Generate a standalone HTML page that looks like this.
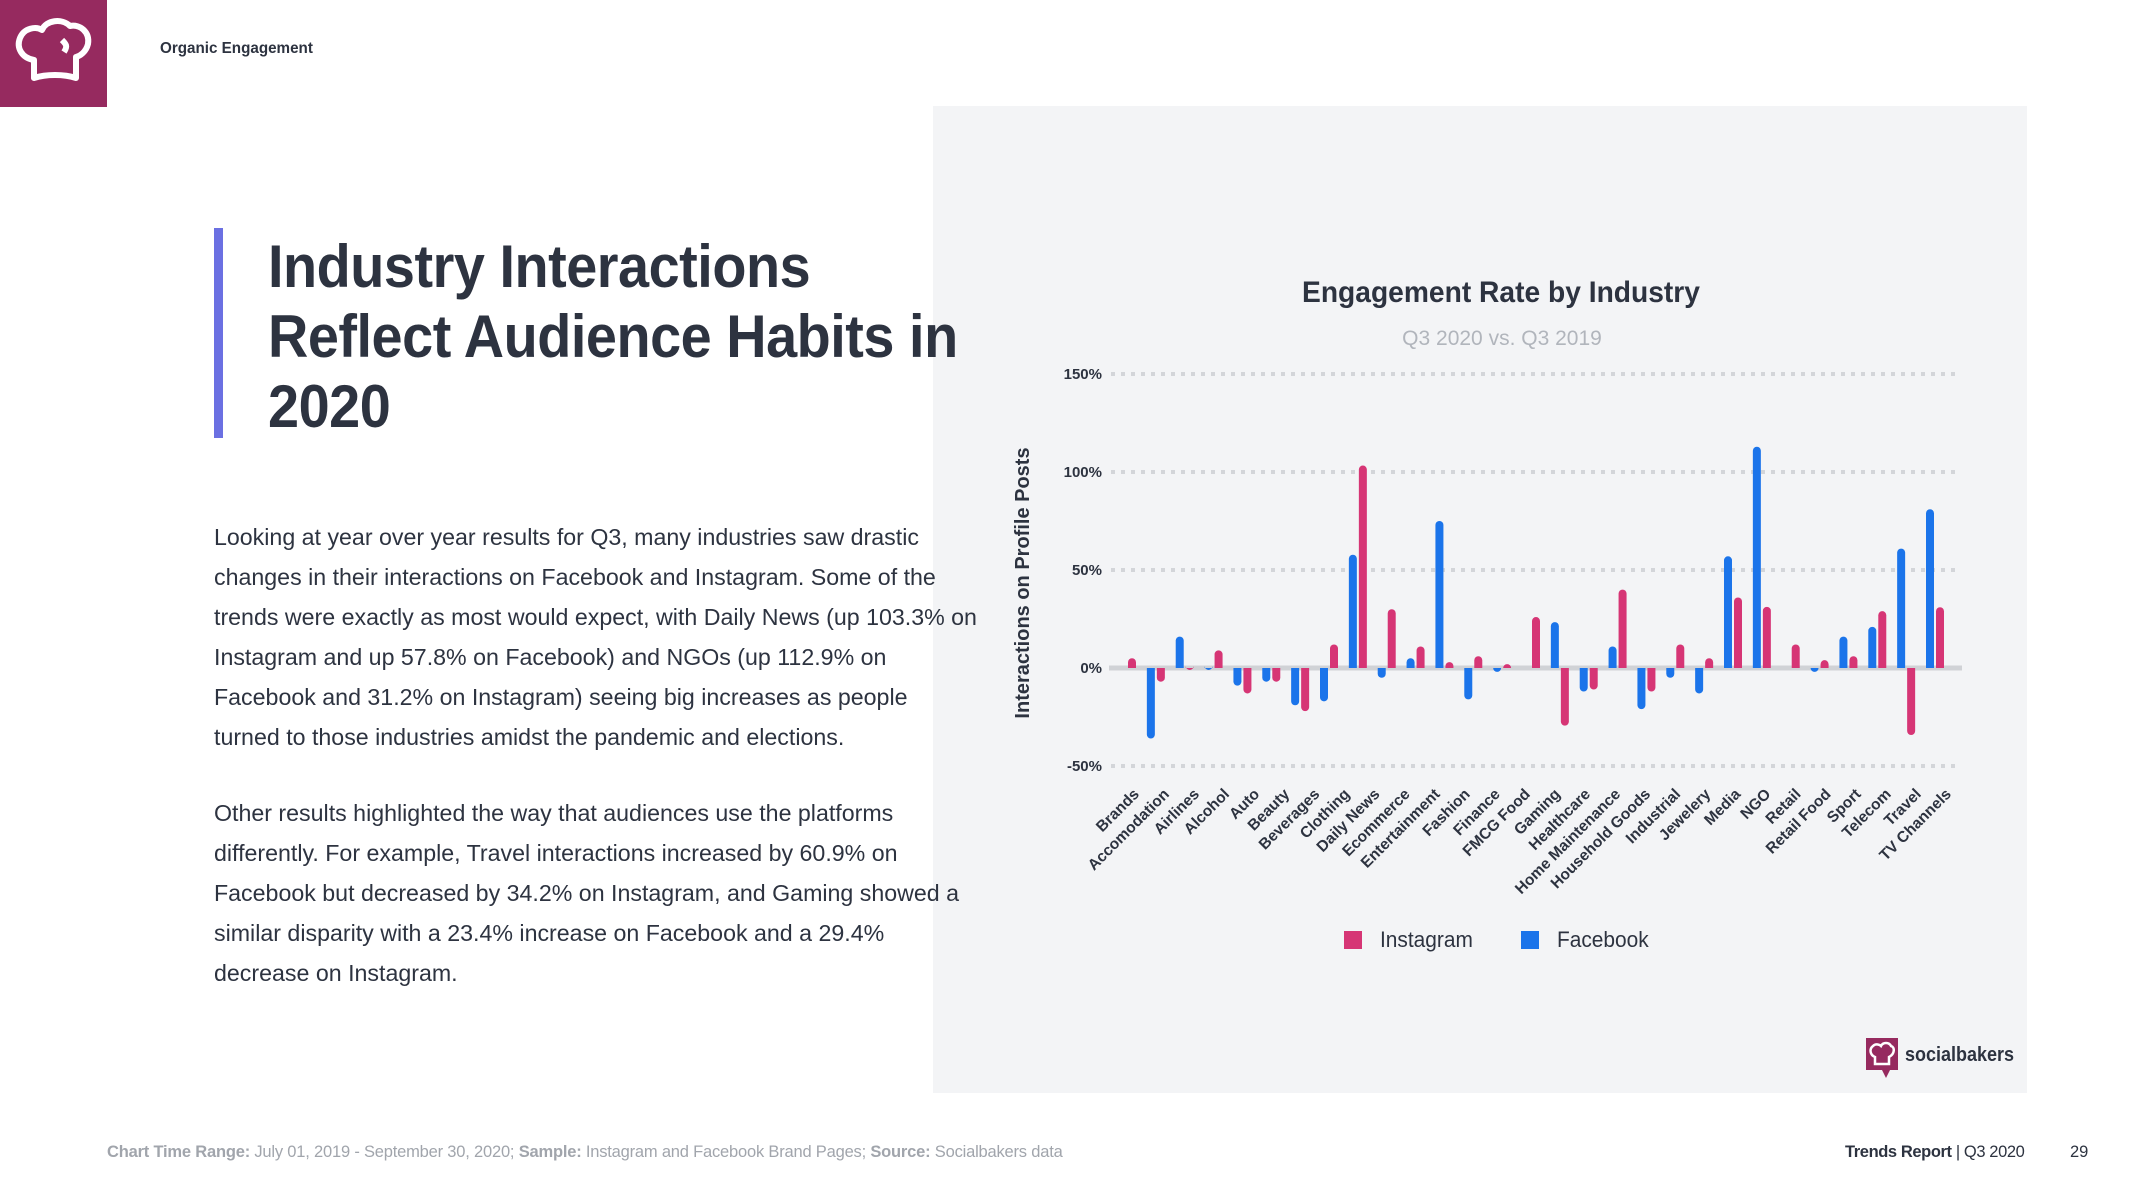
<!DOCTYPE html>
<html><head><meta charset="utf-8">
<style>
*{margin:0;padding:0;box-sizing:border-box}
body{width:2133px;height:1200px;background:#fff;position:relative;overflow:hidden;font-family:"Liberation Sans",sans-serif;color:#2d3340}
.abs{position:absolute}
#logo-box{left:0;top:0;width:107px;height:107px;background:#962a5f}
#section{left:160px;top:40px;font-size:16px;font-weight:bold;color:#2d3340;transform:scaleX(0.95);transform-origin:left}
#accent{left:214px;top:228px;width:9px;height:210px;background:#6b70e2}
#title{left:268px;top:232px;font-size:60px;font-weight:bold;line-height:70px;color:#2d3340;transform:scaleX(0.93);transform-origin:left top;white-space:nowrap;letter-spacing:-0.5px;z-index:2}
.para{left:214px;font-size:23.2px;line-height:40px;color:#2d3340;white-space:nowrap;letter-spacing:0;z-index:2}
#panel{left:933px;top:106px;width:1094px;height:987px;background:#f3f4f6;z-index:0}
#footer{left:107px;top:1143px;font-size:16.5px;color:#a1a5ac;white-space:nowrap;letter-spacing:-0.2px}
#report{left:1845px;top:1143px;font-size:16.5px;color:#2d3340;white-space:nowrap;letter-spacing:-0.4px}
#pagenum{left:2070px;top:1143px;font-size:16.5px;color:#2d3340}
#chart{z-index:1}
</style></head>
<body>
<div id="logo-box" class="abs">
<svg width="107" height="107" viewBox="0 0 107 107"><path d="M34 78 L34 60 C22 58 16 48 20 38 C24 28 36 26 42 30 C46 20 62 18 70 26 C80 24 90 32 88 44 C86 52 80 56 76 57 L76 78 C64 74 46 74 34 78 Z M62 40 C66 44 68 46 64 52" fill="none" stroke="#fff" stroke-width="6" stroke-linejoin="round"/></svg>
</div>
<div id="section" class="abs">Organic Engagement</div>
<div id="accent" class="abs"></div>
<div id="panel" class="abs"></div>
<div id="title" class="abs">Industry Interactions<br>Reflect Audience Habits in<br>2020</div>
<div class="abs para" style="top:517px">Looking at year over year results for Q3, many industries saw drastic<br>changes in their interactions on Facebook and Instagram. Some of the<br>trends were exactly as most would expect, with Daily News (up 103.3% on<br>Instagram and up 57.8% on Facebook) and NGOs (up 112.9% on<br>Facebook and 31.2% on Instagram) seeing big increases as people<br>turned to those industries amidst the pandemic and elections.</div>
<div class="abs para" style="top:793px">Other results highlighted the way that audiences use the platforms<br>differently. For example, Travel interactions increased by 60.9% on<br>Facebook but decreased by 34.2% on Instagram, and Gaming showed a<br>similar disparity with a 23.4% increase on Facebook and a 29.4%<br>decrease on Instagram.</div>
<svg id="chart" class="abs" style="left:0;top:0" width="2133" height="1200"></svg>
<div id="footer" class="abs"><b>Chart Time Range:</b> July 01, 2019 - September 30, 2020; <b>Sample:</b> Instagram and Facebook Brand Pages; <b>Source:</b> Socialbakers data</div>
<div id="report" class="abs"><b>Trends Report</b> | Q3 2020</div>
<div id="pagenum" class="abs">29</div>
<script>
const labels = ["Brands","Accomodation","Airlines","Alcohol","Auto","Beauty","Beverages","Clothing","Daily News","Ecommerce","Entertainment","Fashion","Finance","FMCG Food","Gaming","Healthcare","Home Maintenance","Household Goods","Industrial","Jewelery","Media","NGO","Retail","Retail Food","Sport","Telecom","Travel","TV Channels"];
const facebook = [0,-36,16,-1,-9,-7,-19,-17,57.8,-5,5,75,-16,-2,0,23.4,-12,11,-21,-5,-13,57,112.9,0,-2,16,21,60.9,81];
const instagram = [5,-7,-1,9,-13,-7,-22,12,103.3,30,11,3,6,2,26,-29.4,-11,40,-12,12,5,36,31.2,12,4,6,29,-34.2,31];
const yTicks = [150,100,50,0,-50];
const yTickLabels = ["150%","100%","50%","0%","-50%"];

const NS="http://www.w3.org/2000/svg";
const svg=document.getElementById('chart');
function el(t,a,txt){const e=document.createElementNS(NS,t);for(const k in a)e.setAttribute(k,a[k]);if(txt!=null)e.textContent=txt;svg.appendChild(e);return e;}
const Y0=668, PPU=1.96, X0=1111, X1=1962;
const y=v=>Y0-v*PPU;
const slotX=i=>1122+i*(808/(facebook.length-1));
const labelX=i=>1140+i*(812/(labels.length-1));

let t=el('text',{x:1501,y:302,'text-anchor':'middle','font-size':30,'font-weight':'bold',fill:'#2d3340',transform:'translate(1501 0) scale(0.94 1) translate(-1501 0)'},'Engagement Rate by Industry');


t=el('text',{x:1502,y:345,'text-anchor':'middle','font-size':21,fill:'#b1b5bc'},'Q3 2020 vs. Q3 2019');


t=el('text',{x:0,y:0,'text-anchor':'middle','font-size':20,'font-weight':'bold',fill:'#2d3340',transform:'translate(1029 583) rotate(-90)'},'Interactions on Profile Posts');



yTicks.forEach((v,i)=>{
  if(v!==0){
    const g=el('line',{x1:X0,x2:X1-2,y1:y(v),y2:y(v),stroke:'#d3d5d9','stroke-width':4,'stroke-dasharray':'4 6'});
    
    
  }
  const l=el('text',{x:1102,y:y(v)+5,'text-anchor':'end','font-size':15,'font-weight':'bold',fill:'#2d3340'},yTickLabels[i]);
  
  
});
const zl=el('line',{x1:X0-2,x2:X1,y1:Y0,y2:Y0,stroke:'#d0d2d6','stroke-width':5});



function bar(x,v,color,name){
  if(v===0) return;
  const top=Math.min(y(v),Y0), h=Math.abs(y(v)-Y0);
  const p=el('path',{fill:color,d:v>0?`M${x-4},${Y0} V${top+4} A4,4 0 0 1 ${x+4},${top+4} V${Y0} Z`:`M${x-4},${Y0} V${Y0+h-4} A4,4 0 0 0 ${x+4},${Y0+h-4} V${Y0} Z`});
  
  
}
facebook.forEach((v,i)=>bar(slotX(i),v,'#1b74ea','bar-facebook'));
instagram.forEach((v,i)=>bar(slotX(i)+10,v,'#d63575','bar-instagram'));

labels.forEach((s,i)=>{
  const x=labelX(i);
  const l=el('text',{x:0,y:0,'text-anchor':'end','font-size':15.5,'font-weight':'bold',fill:'#2d3340',transform:`translate(${x} 795) rotate(-45)`},s);
  
  
});

let r=el('rect',{x:1344,y:931,width:18,height:18,fill:'#d63575'});


t=el('text',{x:1380,y:947,'font-size':22,fill:'#2d3340',transform:'translate(1380 0) scale(0.95 1) translate(-1380 0)'},'Instagram');


r=el('rect',{x:1521,y:931,width:18,height:18,fill:'#1b74ea'});


t=el('text',{x:1557,y:947,'font-size':22,fill:'#2d3340',transform:'translate(1557 0) scale(0.95 1) translate(-1557 0)'},'Facebook');



r=el('path',{d:'M1866,1038 H1898 V1070 H1890 L1886,1078 L1882,1070 H1866 Z',fill:'#962a5f'});


r=el('path',{d:'M1875,1064 V1057 C1870,1055 1869,1049 1873,1046 C1876,1043 1880,1045 1881,1046 C1883,1042 1889,1042 1891,1046 C1895,1047 1895,1054 1889,1057 V1064 Z',fill:'none',stroke:'#fff','stroke-width':2.5});


t=el('text',{x:1905,y:1061,'font-size':20,'font-weight':'bold',fill:'#2d3340',transform:'translate(1905 0) scale(0.9 1) translate(-1905 0)'},'socialbakers');


</script>
</body></html>
